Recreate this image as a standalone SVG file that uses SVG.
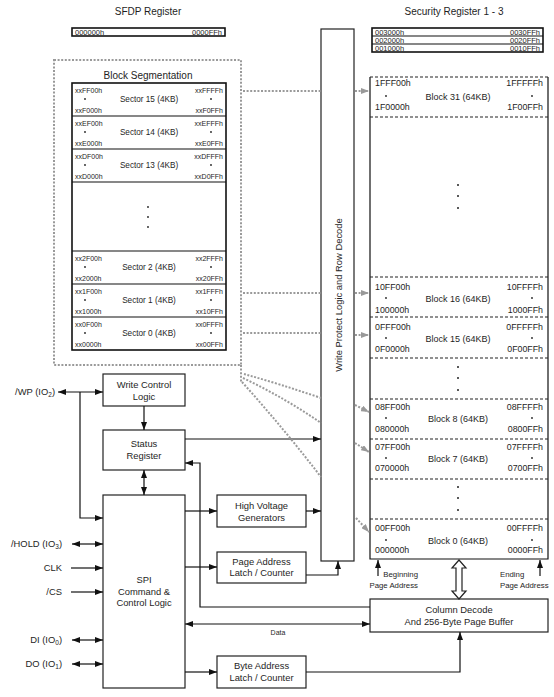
<svg xmlns="http://www.w3.org/2000/svg" width="554" height="697" viewBox="0 0 554 697">
<style>
.t{font-family:"Liberation Sans",Arial,sans-serif;fill:#1e1e1e}
.h{font-size:10px;text-anchor:middle}
.lb{font-size:9.4px;text-anchor:middle}
.sa{font-size:7px}
.rg{font-size:7.5px}
.sl{font-size:8.2px;text-anchor:middle}
.ba{font-size:8.8px}
.bl{font-size:9px;text-anchor:middle}
.sm{font-size:7.8px}
.e{text-anchor:end}
.m{text-anchor:middle}
.box{fill:#fff;stroke:#222;stroke-width:1.2}
.thick{fill:#fff;stroke:#111;stroke-width:1.6}
.ln{fill:none;stroke:#111;stroke-width:1.2}
.dt{fill:none;stroke:#9a9a9a;stroke-width:2;stroke-dasharray:2 1.6}
.ds{fill:none;stroke:#222;stroke-width:1.2;stroke-dasharray:3 2}
.dot{fill:#222}
</style>
<defs>
<marker id="a" viewBox="0 0 8 6" refX="8" refY="3" markerWidth="8" markerHeight="6" markerUnits="userSpaceOnUse" orient="auto-start-reverse"><path d="M0,0 L8,3 L0,6 z" fill="#111"/></marker>
<marker id="g" viewBox="0 0 8 6" refX="8" refY="3" markerWidth="8" markerHeight="6" markerUnits="userSpaceOnUse" orient="auto"><path d="M0,0 L8,3 L0,6 z" fill="#999"/></marker>
</defs>
<rect width="554" height="697" fill="#fff"/>

<g id="sfdp">
<text class="t h" x="148" y="15">SFDP Register</text>
<rect class="thick" x="72" y="28" width="153" height="8"/>
<text class="t rg" x="75" y="34.8">000000h</text>
<text class="t rg e" x="222" y="34.8">0000FFh</text>
</g>

<g id="block-segmentation">
<rect class="dt" x="54" y="60" width="187" height="305"/>
<text class="t h" x="148" y="79" font-size="9.5">Block Segmentation</text>
<rect class="thick" x="72" y="83" width="154" height="267"/>
<line class="ln" x1="72" y1="116" x2="226" y2="116" stroke-width="1.6"/>
<line class="ln" x1="72" y1="149" x2="226" y2="149" stroke-width="1.6"/>
<line class="ln" x1="72" y1="182" x2="226" y2="182" stroke-width="1.6"/>
<line class="ln" x1="72" y1="251" x2="226" y2="251" stroke-width="1.6"/>
<line class="ln" x1="72" y1="284" x2="226" y2="284" stroke-width="1.6"/>
<line class="ln" x1="72" y1="317" x2="226" y2="317" stroke-width="1.6"/>
<g id="sector15"><text class="t sa" x="75" y="92.5">xxFF00h</text><circle class="dot" cx="85" cy="99" r="0.9"/><text class="t sa" x="75" y="112.5">xxF000h</text><text class="t sl" x="149" y="101.5">Sector 15 (4KB)</text><text class="t sa e" x="223" y="92.5">xxFFFFh</text><circle class="dot" cx="211" cy="99" r="0.9"/><text class="t sa e" x="223" y="112.5">xxF0FFh</text></g>
<g id="sector14"><text class="t sa" x="75" y="125.5">xxEF00h</text><circle class="dot" cx="85" cy="132" r="0.9"/><text class="t sa" x="75" y="145.5">xxE000h</text><text class="t sl" x="149" y="134.5">Sector 14 (4KB)</text><text class="t sa e" x="223" y="125.5">xxEFFFh</text><circle class="dot" cx="211" cy="132" r="0.9"/><text class="t sa e" x="223" y="145.5">xxE0FFh</text></g>
<g id="sector13"><text class="t sa" x="75" y="158.5">xxDF00h</text><circle class="dot" cx="85" cy="165" r="0.9"/><text class="t sa" x="75" y="178.5">xxD000h</text><text class="t sl" x="149" y="167.5">Sector 13 (4KB)</text><text class="t sa e" x="223" y="158.5">xxDFFFh</text><circle class="dot" cx="211" cy="165" r="0.9"/><text class="t sa e" x="223" y="178.5">xxD0FFh</text></g>
<circle class="dot" cx="148" cy="207" r="0.9"/><circle class="dot" cx="148" cy="217" r="0.9"/><circle class="dot" cx="148" cy="227" r="0.9"/>
<g id="sector2"><text class="t sa" x="75" y="260.5">xx2F00h</text><circle class="dot" cx="85" cy="267" r="0.9"/><text class="t sa" x="75" y="280.5">xx2000h</text><text class="t sl" x="149" y="269.5">Sector 2 (4KB)</text><text class="t sa e" x="223" y="260.5">xx2FFFh</text><circle class="dot" cx="211" cy="267" r="0.9"/><text class="t sa e" x="223" y="280.5">xx20FFh</text></g>
<g id="sector1"><text class="t sa" x="75" y="293.5">xx1F00h</text><circle class="dot" cx="85" cy="300" r="0.9"/><text class="t sa" x="75" y="313.5">xx1000h</text><text class="t sl" x="149" y="302.5">Sector 1 (4KB)</text><text class="t sa e" x="223" y="293.5">xx1FFFh</text><circle class="dot" cx="211" cy="300" r="0.9"/><text class="t sa e" x="223" y="313.5">xx10FFh</text></g>
<g id="sector0"><text class="t sa" x="75" y="326.5">xx0F00h</text><circle class="dot" cx="85" cy="333" r="0.9"/><text class="t sa" x="75" y="346.5">xx0000h</text><text class="t sl" x="149" y="335.5">Sector 0 (4KB)</text><text class="t sa e" x="223" y="326.5">xx0FFFh</text><circle class="dot" cx="211" cy="333" r="0.9"/><text class="t sa e" x="223" y="346.5">xx00FFh</text></g>
</g>

<g id="security-register">
<text class="t h" x="454" y="15">Security Register 1 - 3</text>
<rect class="thick" x="372" y="28" width="171" height="24"/>
<line class="ln" x1="372" y1="36" x2="543" y2="36"/>
<line class="ln" x1="372" y1="44" x2="543" y2="44"/>
<text class="t rg" x="375" y="34.8">003000h</text><text class="t rg e" x="540" y="34.8">0030FFh</text>
<text class="t rg" x="375" y="42.8">002000h</text><text class="t rg e" x="540" y="42.8">0020FFh</text>
<text class="t rg" x="375" y="50.8">001000h</text><text class="t rg e" x="540" y="50.8">0010FFh</text>
</g>

<g id="write-protect">
<rect class="box" x="321" y="29" width="33" height="532" stroke="#555"/>
<text class="t lb" transform="rotate(-90 338 295)" x="338" y="298.5">Write Protect Logic and Row Decode</text>
</g>

<g id="memory-array">
<path class="ln" d="M370,77 V559 H548 V77" stroke-width="1.4"/>
<line class="ds" x1="370" y1="77" x2="548" y2="77"/>
<line class="ds" x1="370" y1="117" x2="548" y2="117"/>
<line class="ds" x1="370" y1="277" x2="548" y2="277"/>
<line class="ds" x1="370" y1="317" x2="548" y2="317"/>
<line class="ds" x1="370" y1="358" x2="548" y2="358"/>
<line class="ds" x1="370" y1="399" x2="548" y2="399"/>
<line class="ds" x1="370" y1="439" x2="548" y2="439"/>
<line class="ds" x1="370" y1="479" x2="548" y2="479"/>
<line class="ds" x1="370" y1="519" x2="548" y2="519"/>
<g id="block31"><text class="t ba" x="375" y="86">1FFF00h</text><circle class="dot" cx="386" cy="96" r="0.9"/><text class="t ba" x="375" y="110">1F0000h</text><text class="t bl" x="458" y="99.5">Block 31 (64KB)</text><text class="t ba e" x="543" y="86">1FFFFFh</text><circle class="dot" cx="532" cy="96" r="0.9"/><text class="t ba e" x="543" y="110">1F00FFh</text></g>
<circle class="dot" cx="458" cy="185" r="1"/><circle class="dot" cx="458" cy="196" r="1"/><circle class="dot" cx="458" cy="208" r="1"/>
<g id="block16"><text class="t ba" x="375" y="290">10FF00h</text><circle class="dot" cx="386" cy="298" r="0.9"/><text class="t ba" x="375" y="313">100000h</text><text class="t bl" x="458" y="301.5">Block 16 (64KB)</text><text class="t ba e" x="543" y="290">10FFFFh</text><circle class="dot" cx="532" cy="298" r="0.9"/><text class="t ba e" x="543" y="313">1000FFh</text></g>
<g id="block15"><text class="t ba" x="375" y="330">0FFF00h</text><circle class="dot" cx="386" cy="338" r="0.9"/><text class="t ba" x="375" y="352">0F0000h</text><text class="t bl" x="458" y="341.5">Block 15 (64KB)</text><text class="t ba e" x="543" y="330">0FFFFFh</text><circle class="dot" cx="532" cy="338" r="0.9"/><text class="t ba e" x="543" y="352">0F00FFh</text></g>
<circle class="dot" cx="458" cy="367" r="1"/><circle class="dot" cx="458" cy="378" r="1"/><circle class="dot" cx="458" cy="390" r="1"/>
<g id="block8"><text class="t ba" x="375" y="410">08FF00h</text><circle class="dot" cx="386" cy="418" r="0.9"/><text class="t ba" x="375" y="432">080000h</text><text class="t bl" x="458" y="421.5">Block 8 (64KB)</text><text class="t ba e" x="543" y="410">08FFFFh</text><circle class="dot" cx="532" cy="418" r="0.9"/><text class="t ba e" x="543" y="432">0800FFh</text></g>
<g id="block7"><text class="t ba" x="375" y="450">07FF00h</text><circle class="dot" cx="386" cy="458" r="0.9"/><text class="t ba" x="375" y="471">070000h</text><text class="t bl" x="458" y="461.5">Block 7 (64KB)</text><text class="t ba e" x="543" y="450">07FFFFh</text><circle class="dot" cx="532" cy="458" r="0.9"/><text class="t ba e" x="543" y="471">0700FFh</text></g>
<circle class="dot" cx="458" cy="487" r="1"/><circle class="dot" cx="458" cy="498" r="1"/><circle class="dot" cx="458" cy="510" r="1"/>
<g id="block0"><text class="t ba" x="375" y="531">00FF00h</text><circle class="dot" cx="386" cy="540" r="0.9"/><text class="t ba" x="375" y="553">000000h</text><text class="t bl" x="458" y="543.5">Block 0 (64KB)</text><text class="t ba e" x="543" y="531">00FFFFh</text><circle class="dot" cx="532" cy="540" r="0.9"/><text class="t ba e" x="543" y="553">0000FFh</text></g>
</g>

<g id="write-control">
<rect class="box" x="103" y="374" width="82" height="32"/>
<text class="t lb" x="144" y="388">Write Control</text>
<text class="t lb" x="144" y="400">Logic</text>
</g>
<g id="status-register">
<rect class="box" x="103" y="430" width="82" height="40"/>
<text class="t lb" x="144" y="447">Status</text>
<text class="t lb" x="144" y="459">Register</text>
</g>
<g id="spi">
<rect class="box" x="103" y="495" width="82" height="193"/>
<text class="t lb" x="144" y="583">SPI</text>
<text class="t lb" x="144" y="595">Command &amp;</text>
<text class="t lb" x="144" y="606">Control Logic</text>
</g>
<g id="high-voltage">
<rect class="box" x="217" y="495" width="89" height="32"/>
<text class="t lb" x="261.5" y="509">High Voltage</text>
<text class="t lb" x="261.5" y="521">Generators</text>
</g>
<g id="page-address">
<rect class="box" x="217" y="552" width="89" height="31"/>
<text class="t lb" x="261.5" y="565">Page Address</text>
<text class="t lb" x="261.5" y="576">Latch / Counter</text>
</g>
<g id="byte-address">
<rect class="box" x="217" y="656" width="89" height="32"/>
<text class="t lb" x="261.5" y="669">Byte Address</text>
<text class="t lb" x="261.5" y="681">Latch / Counter</text>
</g>
<g id="column-decode">
<rect class="box" x="370" y="599" width="178" height="33"/>
<text class="t lb" x="459" y="613">Column Decode</text>
<text class="t lb" x="459" y="625">And 256-Byte Page Buffer</text>
</g>

<g id="pins">
<text class="t lb e" x="55" y="395">/WP (IO<tspan font-size="6.5" dy="2">2</tspan><tspan dy="-2">)</tspan></text>
<text class="t lb e" x="62" y="547">/HOLD (IO<tspan font-size="6.5" dy="2">3</tspan><tspan dy="-2">)</tspan></text>
<text class="t lb e" x="62" y="571">CLK</text>
<text class="t lb e" x="62" y="595">/CS</text>
<text class="t lb e" x="62" y="643">DI (IO<tspan font-size="6.5" dy="2">0</tspan><tspan dy="-2">)</tspan></text>
<text class="t lb e" x="62" y="667">DO (IO<tspan font-size="6.5" dy="2">1</tspan><tspan dy="-2">)</tspan></text>
</g>

<g id="labels">
<text class="t sa m" x="278" y="635">Data</text>
<text class="t sm e" x="418" y="577">Beginning</text>
<text class="t sm e" x="418" y="588">Page Address</text>
<text class="t sm" x="500" y="577">Ending</text>
<text class="t sm" x="500" y="588">Page Address</text>
</g>

<g id="connectors">
<line class="ln" x1="58" y1="392" x2="103" y2="392" marker-start="url(#a)" marker-end="url(#a)"/>
<polyline class="ln" points="80,392 80,518 103,518" marker-end="url(#a)"/>
<line class="ln" x1="144" y1="406" x2="144" y2="430" marker-end="url(#a)"/>
<line class="ln" x1="144" y1="470" x2="144" y2="495" marker-start="url(#a)" marker-end="url(#a)"/>
<line class="ln" x1="185" y1="439" x2="321" y2="439" marker-end="url(#a)"/>
<polyline class="ln" points="370,607 200,607 200,463 185,463" marker-end="url(#a)"/>
<line class="ln" x1="185" y1="511" x2="217" y2="511" marker-end="url(#a)"/>
<line class="ln" x1="306" y1="511" x2="321" y2="511" marker-end="url(#a)"/>
<line class="ln" x1="185" y1="567" x2="217" y2="567" marker-end="url(#a)"/>
<polyline class="ln" points="306,575 338,575 338,561" marker-end="url(#a)"/>
<line class="ln" x1="185" y1="624" x2="370" y2="624" marker-start="url(#a)" marker-end="url(#a)"/>
<line class="ln" x1="185" y1="672" x2="217" y2="672" marker-end="url(#a)"/>
<polyline class="ln" points="306,672 460,672 460,632" marker-end="url(#a)"/>
<line class="ln" x1="72" y1="544" x2="103" y2="544" marker-start="url(#a)" marker-end="url(#a)"/>
<line class="ln" x1="71" y1="568" x2="103" y2="568" marker-end="url(#a)"/>
<line class="ln" x1="71" y1="592" x2="103" y2="592" marker-end="url(#a)"/>
<line class="ln" x1="72" y1="640" x2="103" y2="640" marker-start="url(#a)" marker-end="url(#a)"/>
<line class="ln" x1="72" y1="664" x2="103" y2="664" marker-start="url(#a)" marker-end="url(#a)"/>
<line class="ln" x1="378" y1="576" x2="378" y2="560" marker-end="url(#a)"/>
<line class="ln" x1="540" y1="576" x2="540" y2="560" marker-end="url(#a)"/>
<path d="M459,560 L452,568 L456,568 L456,591 L452,591 L459,599 L466,591 L462,591 L462,568 L466,568 Z" fill="#fff" stroke="#222" stroke-width="1.2"/>
<line class="dt" x1="243" y1="91" x2="321" y2="91"/>
<line class="dt" x1="243" y1="293" x2="321" y2="293"/>
<line class="dt" x1="243" y1="333" x2="321" y2="333"/>
<path class="dt" d="M241,365 V383"/>
<path class="dt" d="M244,374 Q280,384 321,398"/>
<path class="dt" d="M243,378 Q285,398 321,423"/>
<path class="dt" d="M242,382 Q285,430 321,477"/>
<line class="dt" x1="355" y1="91" x2="369" y2="91" marker-end="url(#g)"/>
<line class="dt" x1="355" y1="293" x2="369" y2="293" marker-end="url(#g)"/>
<line class="dt" x1="355" y1="335" x2="369" y2="335" marker-end="url(#g)"/>
<line class="dt" x1="355" y1="405" x2="369" y2="412" marker-end="url(#g)"/>
<line class="dt" x1="355" y1="443" x2="369" y2="452" marker-end="url(#g)"/>
<line class="dt" x1="356" y1="518" x2="369" y2="532" marker-end="url(#g)"/>
</g>
</svg>
